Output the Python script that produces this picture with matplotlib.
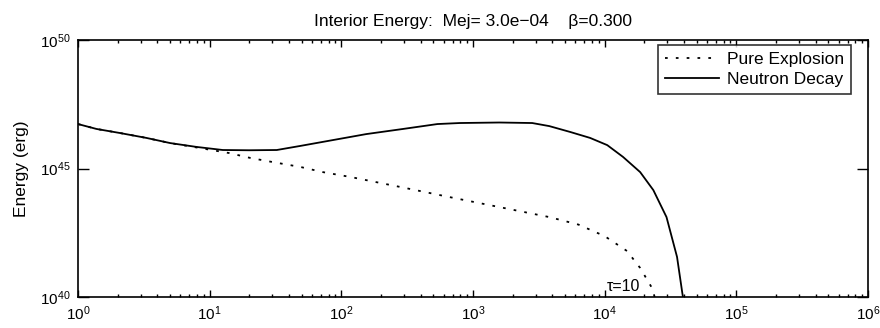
import numpy as np
import matplotlib
matplotlib.use('Agg')
import matplotlib.pyplot as plt

plt.rcParams['font.family'] = ['Liberation Sans', 'DejaVu Sans']
plt.rcParams['mathtext.fontset'] = 'custom'
plt.rcParams['mathtext.rm'] = 'Liberation Sans'
plt.rcParams['mathtext.it'] = 'Liberation Sans'
plt.rcParams['mathtext.default'] = 'regular'

# log10(t) and log10(E)
decay_logt = [0.0, 0.14, 0.32, 0.52, 0.70, 0.90, 1.10, 1.30, 1.51, 1.69, 1.94, 2.19,
              2.47, 2.73, 2.90, 3.20, 3.45, 3.58, 3.74, 3.89, 4.02, 4.14, 4.27, 4.37,
              4.47, 4.55, 4.59, 4.61]
decay_logE = [46.73, 46.54, 46.38, 46.19, 45.99, 45.84, 45.72, 45.71, 45.72, 45.88, 46.11, 46.34,
              46.54, 46.73, 46.77, 46.79, 46.77, 46.65, 46.42, 46.19, 45.91, 45.45, 44.86, 44.16,
              43.11, 41.56, 40.16, 39.5]

expl_logt = [0.0, 0.14, 0.32, 0.52, 0.70, 0.90, 1.15, 1.31, 1.48, 1.69, 1.86, 2.07,
             2.45, 2.82, 3.20, 3.58, 3.80, 4.00, 4.17, 4.27, 4.36, 4.38, 4.40]
expl_logE = [46.73, 46.54, 46.38, 46.19, 45.99, 45.82, 45.60, 45.41, 45.25, 45.06, 44.86, 44.67,
             44.28, 43.89, 43.50, 43.11, 42.82, 42.37, 41.79, 41.13, 40.35, 40.0, 39.5]

t_decay = 10.0 ** np.array(decay_logt)
E_decay = 10.0 ** np.array(decay_logE)
t_expl = 10.0 ** np.array(expl_logt)
E_expl = 10.0 ** np.array(expl_logE)

fig = plt.figure(figsize=(8.8, 3.28), dpi=100)
ax = fig.add_axes([0.0886, 0.0945, 0.8977, 0.7835])

ax.loglog(t_expl, E_expl, color='black', linestyle=(0, (1.5, 4.5)), linewidth=1.3,
          label='Pure Explosion')
ax.loglog(t_decay, E_decay, color='black', linestyle='-', linewidth=1.3,
          label='Neutron Decay')

ax.set_xlim(1, 1e6)
ax.set_ylim(1e40, 1e50)
ax.set_yticks([1e40, 1e45, 1e50])
ax.set_yticks([], minor=True)
ax.set_xticks([10.0 ** k for k in range(7)])

ax.tick_params(which='both', direction='in', top=True, right=True, labelsize=11, pad=5)
ax.tick_params(axis='x', which='major', length=5, width=1.0)
ax.tick_params(axis='x', which='minor', length=2.5, width=1.0)
ax.tick_params(axis='y', which='major', length=8, width=1.0)
for sp in ax.spines.values():
    sp.set_linewidth(1.2)

ax.set_ylabel('Energy (erg)', fontsize=12.5, labelpad=8)
ax.set_title('Interior Energy:  Mej= 3.0e\u221204    \u03b2=0.300', fontsize=12.5, pad=10)

ax.text(1.04e4, 10 ** 40.12, '\u03c4=10', fontsize=11.5, ha='left', va='bottom')

leg = ax.legend(loc='upper right', bbox_to_anchor=(0.9785, 0.9805), fontsize=12.5,
                frameon=True, fancybox=False, edgecolor='black', borderpad=0.4,
                labelspacing=0.3, handlelength=3.1, handletextpad=0.45, borderaxespad=0)
leg.get_frame().set_linewidth(1.2)

fig.savefig('out.png', dpi=100)
